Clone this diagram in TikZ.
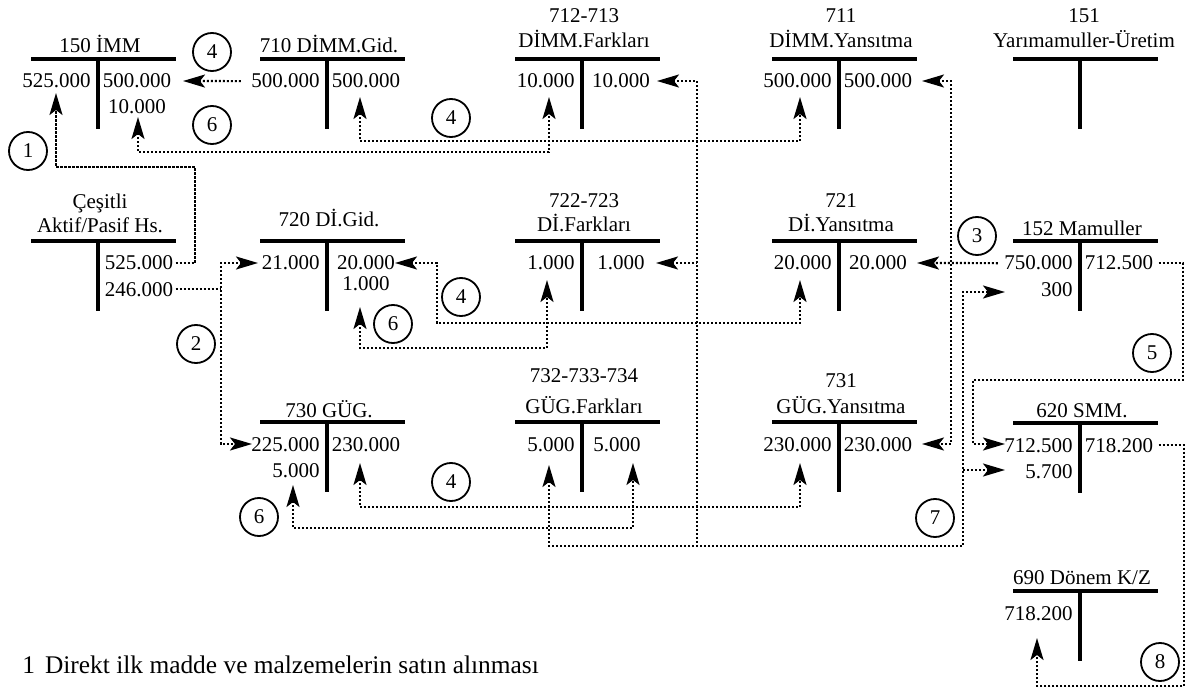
\documentclass[tikz,border=0pt]{standalone}
\usepackage{fontspec}
\setmainfont{Liberation Serif}
\usetikzlibrary{arrows.meta}
\newcommand\fs{\fontsize{10.5}{12}\selectfont}
\tikzset{
  tline/.style={line width=2.2pt},
  val/.style={anchor=base, inner sep=0pt, font=\fs},
  ttl/.style={anchor=base, inner sep=0pt, font=\fs},
  num/.style={circle, draw, line width=0.9pt, minimum size=19pt, inner sep=0pt, font=\fs},
  conn/.style={line width=1.1pt, dash pattern=on 1.1pt off 0.9pt},
  >={Stealth[length=11pt,width=6.5pt,inset=2.5pt]}
}
\newcommand\tacct[2]{%
  \draw[tline] (#1-67,#2) -- (#1+78,#2);
  \draw[tline] (#1,#2) -- (#1,#2+70);
}
\begin{document}
\begin{tikzpicture}[x=0.5pt,y=-0.5pt]
\useasboundingbox (0,0) rectangle (1190,690);

% ---- T accounts (vertical x, bar y)
\tacct{98}{59}
\tacct{327}{59}
\tacct{582}{59}
\tacct{839}{59}
\tacct{1080}{59}
\tacct{98}{241}
\tacct{327}{241}
\tacct{582}{241}
\tacct{839}{241}
\tacct{1080}{241}
\tacct{327}{422}
\tacct{582}{422}
\tacct{839}{422}
\tacct{1080}{423}
\tacct{1080}{591}

% ---- titles
\node[ttl] (t150) at (100,53) {150 İMM};
\node[ttl] (t710) at (329,53) {710 DİMM.Gid.};
\node[ttl] (t712a) at (584,23) {712-713};
\node[ttl] (t712b) at (584,48) {DİMM.Farkları};
\node[ttl] (t711a) at (841,23) {711};
\node[ttl] (t711b) at (841,48) {DİMM.Yansıtma};
\node[ttl] (t151a) at (1084,23) {151};
\node[ttl] (t151b) at (1084,48) {Yarımamuller-Üretim};
\node[ttl] (tcesa) at (100,208) {Çeşitli};
\node[ttl] (tcesb) at (100,233) {Aktif/Pasif Hs.};
\node[ttl] (t720) at (329,227) {720 Dİ.Gid.};
\node[ttl] (t722a) at (584,207) {722-723};
\node[ttl] (t722b) at (584,232) {Dİ.Farkları};
\node[ttl] (t721a) at (841,207) {721};
\node[ttl] (t721b) at (841,232) {Dİ.Yansıtma};
\node[ttl] (t152) at (1082,235) {152 Mamuller};
\node[ttl] (t730) at (329,417) {730 GÜG.};
\node[ttl] (t732a) at (584,382) {732-733-734};
\node[ttl] (t732b) at (584,413) {GÜG.Farkları};
\node[ttl] (t731a) at (841,387) {731};
\node[ttl] (t731b) at (841,413) {GÜG.Yansıtma};
\node[ttl] (t620) at (1082,417) {620 SMM.};
\node[ttl] (t690) at (1082,584) {690 Dönem K/Z};

% ---- values
\node[val,anchor=base east] (a150L1) at (91,88) {525.000};
\node[val] (a150R1) at (137,88) {500.000};
\node[val] (a150R2) at (137,114) {10.000};
\node[val,anchor=base east] (a710L1) at (320,88) {500.000};
\node[val] (a710R1) at (366,88) {500.000};
\node[val,anchor=base east] (a712L1) at (575,88) {10.000};
\node[val] (a712R1) at (621,88) {10.000};
\node[val,anchor=base east] (a711L1) at (832,88) {500.000};
\node[val] (a711R1) at (878,88) {500.000};
\node[val] (cesR1) at (139,270) {525.000};
\node[val] (cesR2) at (139,296) {246.000};
\node[val,anchor=base east] (a720L1) at (320,270) {21.000};
\node[val] (a720R1) at (366,270) {20.000};
\node[val] (a720R2) at (366,291) {1.000};
\node[val,anchor=base east] (a722L1) at (575,270) {1.000};
\node[val] (a722R1) at (621,270) {1.000};
\node[val,anchor=base east] (a721L1) at (832,270) {20.000};
\node[val] (a721R1) at (878,270) {20.000};
\node[val,anchor=base east] (a152L1) at (1073,270) {750.000};
\node[val,anchor=base east] (a152L2) at (1073,296) {300};
\node[val] (a152R1) at (1119,270) {712.500};
\node[val,anchor=base east] (a730L1) at (320,451) {225.000};
\node[val,anchor=base east] (a730L2) at (320,477) {5.000};
\node[val] (a730R1) at (366,451) {230.000};
\node[val,anchor=base east] (a732L1) at (575,451) {5.000};
\node[val] (a732R1) at (617,451) {5.000};
\node[val,anchor=base east] (a731L1) at (832,451) {230.000};
\node[val] (a731R1) at (878,451) {230.000};
\node[val,anchor=base east] (a620L1) at (1073,452) {712.500};
\node[val,anchor=base east] (a620L2) at (1073,478) {5.700};
\node[val] (a620R1) at (1119,452) {718.200};
\node[val,anchor=base east] (a690L1) at (1073,620) {718.200};

% ---- numbered circles
\node[num] (n1) at (28,151) {1};
\node[num] (n4a) at (212,52) {4};
\node[num] (n6a) at (212,125) {6};
\node[num] (n4b) at (451,118) {4};
\node[num] (n3) at (977,236) {3};
\node[num] (n2) at (196,344) {2};
\node[num] (n6b) at (393,324) {6};
\node[num] (n4c) at (461,297) {4};
\node[num] (n4d) at (451,482) {4};
\node[num] (n6c) at (259,517) {6};
\node[num] (n7) at (935,518) {7};
\node[num] (n5) at (1152,353) {5};
\node[num] (n8) at (1160,662) {8};

% ---- connector coordinates
\coordinate (t1) at (56,93);
\coordinate (k1) at (195,167);
\coordinate (c2) at (221,289);
\coordinate (t2a) at (258,263);
\coordinate (t2b) at (252,444);
\coordinate (t3a) at (917,263);
\coordinate (t3b) at (922,81);
\coordinate (k3) at (951,263);
\coordinate (t3c) at (922,444);
\coordinate (t4a) at (183,81);
\coordinate (t4b1) at (360,97);
\coordinate (k4b) at (600,141);
\coordinate (t4b2) at (800,97);
\coordinate (t6a1) at (138,117);
\coordinate (k6a) at (300,152);
\coordinate (t6a2) at (549,97);
\coordinate (t4c1) at (395,263);
\coordinate (k4c) at (437,323);
\coordinate (t4c2) at (800,280);
\coordinate (t6b1) at (360,307);
\coordinate (k6b) at (450,348);
\coordinate (t6b2) at (547,280);
\coordinate (t4d1) at (360,463);
\coordinate (k4d) at (600,507);
\coordinate (t4d2) at (800,463);
\coordinate (t6c1) at (293,485);
\coordinate (k6c) at (450,528);
\coordinate (t6c2) at (633,463);
\coordinate (t7a) at (657,81);
\coordinate (k7b) at (697,546);
\coordinate (t7b) at (656,263);
\coordinate (t7c) at (549,465);
\coordinate (k7c) at (963,546);
\coordinate (t7d) at (1005,292);
\coordinate (t7e) at (1005,470);
\coordinate (k5a) at (1183,380);
\coordinate (k5b) at (973,444);
\coordinate (t5) at (1005,444);
\coordinate (k8a) at (1184,686);
\coordinate (t8) at (1037,638);

% ---- connectors
% 1
\draw[conn,->,shorten <=1pt] (cesR1.east) -| (k1) -| (t1);
% 2
\draw[conn,shorten <=1pt] (cesR2.east) -- (cesR2.east -| c2);
\draw[conn,<->] (t2a) -| (c2) |- (t2b);
% 3
\draw[conn,->,shorten <=3pt] (a152L1.west) -- (t3a);
\draw[conn,<->] (t3b) -| (k3) |- (t3c);
% 4
\draw[conn,->,shorten <=5pt] (a710L1.west) -- (t4a);
\draw[conn,<->] (t4b1) |- (k4b) -| (t4b2);
\draw[conn,<->] (t4c1) -| (k4c) -| (t4c2);
\draw[conn,<->] (t4d1) |- (k4d) -| (t4d2);
% 6
\draw[conn,<->] (t6a1) |- (k6a) -| (t6a2);
\draw[conn,<->] (t6b1) |- (k6b) -| (t6b2);
\draw[conn,<->] (t6c1) |- (k6c) -| (t6c2);
% 7
\draw[conn,<-] (t7a) -| (k7b);
\draw[conn,<-] (t7b) -- (t7b -| k7b);
\draw[conn,<->] (t7c) |- (k7c) |- (t7d);
\draw[conn,->] (t7e -| k7c) -- (t7e);
% 5
\draw[conn,->,shorten <=2.5pt] (a152R1.east) -| (k5a) -| (k5b) -- (t5);
% 8
\draw[conn,->,shorten <=2.5pt] (a620R1.east) -| (k8a) -| (t8);

% ---- legend
\node[anchor=base west, inner sep=0pt, font=\fontsize{12.7}{15}\selectfont] (leg) at (22,673) {1\hspace{5pt}Direkt ilk madde ve malzemelerin satın alınması};
\end{tikzpicture}
\end{document}
